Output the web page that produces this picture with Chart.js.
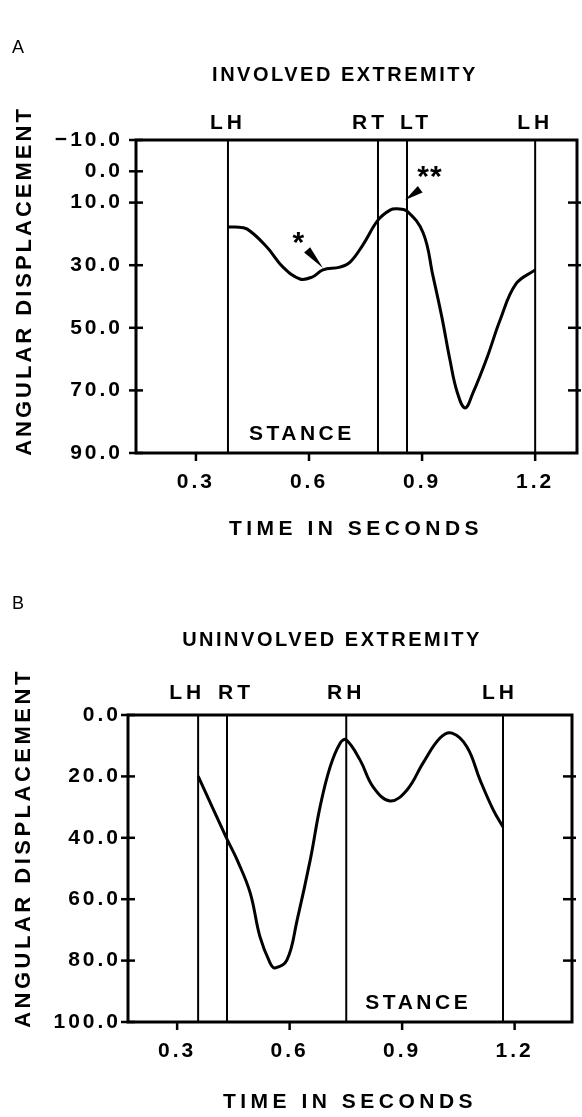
<!DOCTYPE html>
<html>
<head>
<meta charset="utf-8">
<script src="https://cdn.jsdelivr.net/npm/chart.js@4.4.1/dist/chart.umd.min.js"></script>
<style>
  body { margin: 0; background: #fff; }
  canvas { display: block; }
</style>
</head>
<body>
<canvas id="chartA" width="582" height="560"></canvas>
<canvas id="chartB" width="582" height="557"></canvas>
<script>
// Panel A: involved extremity
var timeA = [0.385, 0.404, 0.435, 0.488, 0.531, 0.576, 0.608, 0.637, 0.682, 0.709, 0.743, 0.783, 0.815,
             0.834, 0.86, 0.903, 0.929, 0.953, 0.974, 0.993, 1.014, 1.035, 1.073, 1.107, 1.149, 1.2];
var angleA = [17.8, 17.8, 18.4, 24.2, 30.6, 34.4, 33.8, 31.5, 30.6, 29, 23.5, 15.6, 12.4,
              12, 12.7, 19.7, 33.5, 46.9, 60.3, 70.5, 75.6, 70.8, 59.3, 47.5, 36, 31.5];
var eventTimesA = [0.385, 0.783, 0.86, 1.2];
var eventLabelsA = ['LH', 'RT', 'LT', 'LH'];
var yTicksA = [-10, 0, 10, 30, 50, 70, 90];
var yRightTicksA = [10, 30, 50, 70];

// Panel B: uninvolved extremity
var timeB = [0.356, 0.433, 0.46, 0.495, 0.521, 0.548, 0.561, 0.593, 0.62, 0.655, 0.681, 0.708, 0.735,
             0.751, 0.788, 0.823, 0.868, 0.913, 0.956, 1.001, 1.033, 1.073, 1.108, 1.143, 1.169];
var angleB = [19.9, 40.4, 47.2, 58, 72.3, 80.8, 82.4, 79.8, 66.8, 47.2, 30, 16.9, 9.1,
              8.1, 14.7, 23.5, 28, 24.4, 15.6, 7.5, 5.9, 10.4, 21.2, 30.9, 36.5];
var eventTimesB = [0.356, 0.433, 0.751, 1.169];
var eventLabelsB = ['LH', 'RT', 'RH', 'LH'];
var yTicksB = [0, 20, 40, 60, 80, 100];
var yRightTicksB = [20, 40, 60, 80];

var xTicks = [0.3, 0.6, 0.9, 1.2];

var FONT = '"Liberation Sans", Arial, sans-serif';

function toPoints(xs, ys) {
    return xs.map(function (x, i) { return { x: x, y: ys[i] }; });
}

function text(ctx, str, x, y, font, spacing) {
    ctx.font = font;
    ctx.letterSpacing = spacing + 'px';
    ctx.fillText(str, x, y);
}

function line(ctx, x1, y1, x2, y2) {
    ctx.beginPath();
    ctx.moveTo(x1, y1);
    ctx.lineTo(x2, y2);
    ctx.stroke();
}

// frame, event lines, tick crosses and all the labels of the old figure
var decorPlugin = {
    id: 'decor',
    beforeDraw: function (chart) {
        chart.ctx.letterSpacing = '3px';
    },
    afterDatasetsDraw: function (chart, args, o) {
        var ctx = chart.ctx, area = chart.chartArea;
        var xs = chart.scales.x, ys = chart.scales.y;
        ctx.save();
        ctx.strokeStyle = '#000';
        ctx.fillStyle = '#000';
        ctx.textAlign = 'center';
        ctx.textBaseline = 'middle';

        // gait event lines
        ctx.lineWidth = 2;
        o.events.forEach(function (t, i) {
            var px = xs.getPixelForValue(t);
            line(ctx, px, area.top, px, area.bottom);
            text(ctx, o.eventLabels[i], px + o.labelShift[i], o.labelY, 'bold 21px ' + FONT, 4);
        });

        // box
        ctx.lineWidth = 3;
        ctx.strokeRect(area.left, area.top, area.width, area.height);

        // tick marks
        ctx.lineWidth = 2.5;
        ys.ticks.forEach(function (t) {
            var py = ys.getPixelForValue(t.value);
            line(ctx, area.left - 7, py, area.left + 7, py);
        });
        o.rightTicks.forEach(function (v) {
            var py = ys.getPixelForValue(v);
            line(ctx, area.right - 9, py, area.right + 4, py);
        });
        xs.ticks.forEach(function (t) {
            var px = xs.getPixelForValue(t.value);
            line(ctx, px, area.bottom, px, area.bottom + 8);
        });

        // stance label
        text(ctx, 'STANCE', xs.getPixelForValue(o.stance[0]), ys.getPixelForValue(o.stance[1]),
             'bold 21px ' + FONT, 3.5);

        // asterisk marks with wedge pointers
        (o.marks || []).forEach(function (m) {
            text(ctx, m.label, xs.getPixelForValue(m.at[0]), ys.getPixelForValue(m.at[1]) + 7,
                 'bold 30px ' + FONT, 1);
            var tx = xs.getPixelForValue(m.tail[0]), ty = ys.getPixelForValue(m.tail[1]);
            var px = xs.getPixelForValue(m.tip[0]), py = ys.getPixelForValue(m.tip[1]);
            var dx = px - tx, dy = py - ty, len = Math.sqrt(dx * dx + dy * dy);
            var nx = -dy / len * 4, ny = dx / len * 4;
            ctx.beginPath();
            ctx.moveTo(tx + nx, ty + ny);
            ctx.lineTo(px, py);
            ctx.lineTo(tx - nx, ty - ny);
            ctx.closePath();
            ctx.fill();
        });

        // panel letter, title, axis titles
        ctx.textAlign = 'left';
        text(ctx, o.letter, o.letterPos[0], o.letterPos[1], '18px ' + FONT, 0);
        ctx.textAlign = 'center';
        text(ctx, o.title, o.titlePos[0], o.titlePos[1], 'bold 20px ' + FONT, 2.5);
        text(ctx, 'TIME IN SECONDS', o.xTitlePos[0], o.xTitlePos[1], 'bold 21px ' + FONT, 4.5);
        ctx.translate(o.yTitlePos[0], o.yTitlePos[1]);
        ctx.rotate(-Math.PI / 2);
        text(ctx, 'ANGULAR DISPLACEMENT', 0, 0, 'bold 22px ' + FONT, o.yTitleSpacing);
        ctx.restore();
    }
};

function makeChart(id, cfg) {
    return new Chart(document.getElementById(id), {
        type: 'line',
        data: {
            datasets: [{
                data: toPoints(cfg.time, cfg.angle),
                borderColor: '#000',
                borderWidth: 3,
                pointRadius: 0,
                tension: 0.4,
                fill: false
            }]
        },
        options: {
            responsive: false,
            animation: false,
            devicePixelRatio: 1,
            layout: { padding: cfg.padding },
            plugins: {
                legend: { display: false },
                tooltip: { enabled: false },
                decor: cfg.decor
            },
            scales: {
                x: {
                    type: 'linear',
                    min: cfg.xMin,
                    max: cfg.xMax,
                    grid: { display: false, drawTicks: false },
                    border: { display: false },
                    afterBuildTicks: function (s) { s.ticks = xTicks.map(function (v) { return { value: v }; }); },
                    afterFit: function (s) { s.height = cfg.xHeight; },
                    ticks: {
                        autoSkip: false,
                        maxRotation: 0,
                        padding: 17,
                        color: '#000',
                        font: { family: FONT, size: 21, weight: 'bold' },
                        callback: function (v) { return v.toFixed(1); }
                    }
                },
                y: {
                    type: 'linear',
                    reverse: true,
                    min: cfg.yMin,
                    max: cfg.yMax,
                    grid: { display: false, drawTicks: false },
                    border: { display: false },
                    afterBuildTicks: function (s) { s.ticks = cfg.yTicks.map(function (v) { return { value: v }; }); },
                    afterFit: function (s) { s.width = cfg.yWidth; },
                    ticks: {
                        autoSkip: false,
                        padding: cfg.yPad,
                        color: '#000',
                        font: { family: FONT, size: 21, weight: 'bold' },
                        callback: function (v) { return v.toFixed(1).replace('-', '\u2212'); }
                    }
                }
            }
        },
        plugins: [decorPlugin]
    });
}

makeChart('chartA', {
    time: timeA, angle: angleA,
    xMin: 0.141, xMax: 1.311, yMin: -10, yMax: 90, yTicks: yTicksA,
    padding: { top: 140, right: 5, left: 0, bottom: 0 },
    yWidth: 136, xHeight: 107, yPad: 13,
    decor: {
        events: eventTimesA, eventLabels: eventLabelsA, labelShift: [0, -8, 9, 0], labelY: 123,
        rightTicks: yRightTicksA,
        stance: [0.581, 84],
        marks: [
            { label: '*', at: [0.573, 21], tail: [0.595, 25.1], tip: [0.637, 30.9] },
            { label: '**', at: [0.921, -0.1], tail: [0.895, 5.7], tip: [0.855, 9.2] }
        ],
        letter: 'A', letterPos: [12, 48],
        title: 'INVOLVED EXTREMITY', titlePos: [345, 75],
        xTitlePos: [356, 529], yTitlePos: [25, 281], yTitleSpacing: 3
    }
});

makeChart('chartB', {
    time: timeB, angle: angleB,
    xMin: 0.169, xMax: 1.353, yMin: 0, yMax: 100, yTicks: yTicksB,
    padding: { top: 155, right: 10, left: 0, bottom: 0 },
    yWidth: 128, xHeight: 95, yPad: 7,
    decor: {
        events: eventTimesB, eventLabels: eventLabelsB, labelShift: [-11, 9, 0, -3], labelY: 133,
        rightTicks: yRightTicksB,
        stance: [0.943, 93.8],
        marks: [],
        letter: 'B', letterPos: [12, 44],
        title: 'UNINVOLVED EXTREMITY', titlePos: [332, 80],
        xTitlePos: [350, 542], yTitlePos: [24, 288], yTitleSpacing: 3.5
    }
});
</script>
</body>
</html>
